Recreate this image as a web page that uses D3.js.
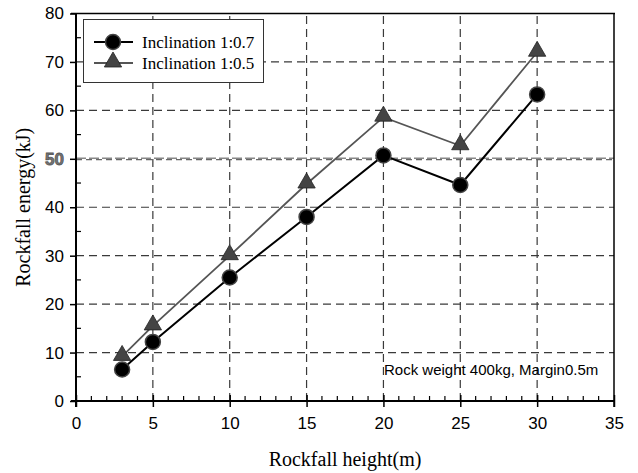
<!DOCTYPE html>
<html><head><meta charset="utf-8">
<script src="https://cdn.jsdelivr.net/npm/d3@7"></script>
<style>body{margin:0;background:#fff}svg{display:block}</style>
</head><body>
<script>
const heights = [3, 5, 10, 15, 20, 25, 30];
const energy07 = [6.5, 12.2, 25.5, 38.0, 50.7, 44.6, 63.3];
const energy05 = [9.2, 15.5, 30.0, 44.8, 58.6, 52.7, 72.0];
const seriesNames = ["Inclination 1:0.7", "Inclination 1:0.5"];
const xTicks = [0, 5, 10, 15, 20, 25, 30, 35];
const yTicks = [0, 10, 20, 30, 40, 50, 60, 70, 80];
const note = "Rock weight 400kg, Margin0.5m";

const W = 638, H = 473;
const m = {l: 76, r: 24, t: 13.5, b: 72};
const svg = d3.select("body").append("svg").attr("width", W).attr("height", H);
const x = d3.scaleLinear().domain([0, 35]).range([m.l, W - m.r]);
const y = d3.scaleLinear().domain([0, 80]).range([H - m.b, m.t]);
const x0 = x(0), x1 = x(35), y0 = y(0), y1 = y(80);

// grid
const g = svg.append("g");
g.selectAll(".gx").data(xTicks.filter(d => d > 0 && d < 35)).join("line")
  .attr("x1", d => x(d)).attr("x2", d => x(d)).attr("y1", y0).attr("y2", y1)
  .attr("stroke", "#3a3a3a").attr("stroke-width", 1.2).attr("stroke-dasharray", "8,5");
g.selectAll(".gy").data(yTicks.filter(d => d > 0 && d < 80 && d !== 50)).join("line")
  .attr("y1", d => y(d)).attr("y2", d => y(d)).attr("x1", x0).attr("x2", x1)
  .attr("stroke", "#3a3a3a").attr("stroke-width", 1.2).attr("stroke-dasharray", "8,5");
// the highlighted 50 line
g.append("line").attr("x1", x0).attr("x2", x1).attr("y1", y(50) - 0.6).attr("y2", y(50) - 0.6)
  .attr("stroke", "#888").attr("stroke-width", 1.4).attr("stroke-dasharray", "10,3");
g.append("line").attr("x1", x0).attr("x2", x1).attr("y1", y(50) + 0.8).attr("y2", y(50) + 0.8)
  .attr("stroke", "#666").attr("stroke-width", 1.2).attr("stroke-dasharray", "6,4");

// frame
svg.append("line").attr("x1", x0 - 5).attr("x2", x1 + 1).attr("y1", y1).attr("y2", y1).attr("stroke", "#000").attr("stroke-width", 1.5);
svg.append("line").attr("x1", x1).attr("x2", x1).attr("y1", y1).attr("y2", y0 + 6).attr("stroke", "#000").attr("stroke-width", 1.5);

// x axis
const xAxis = d3.axisBottom(x).tickValues(xTicks).tickSize(6).tickPadding(10);
const gx = svg.append("g").attr("transform", `translate(0,${y0})`).call(xAxis);
gx.select(".domain").remove();
gx.selectAll(".tick line").attr("y1", -6).attr("y2", 6).attr("stroke-width", 1.5);
gx.selectAll("text").attr("font-family", "Liberation Sans, Arial, sans-serif").attr("font-size", 17).attr("fill", "#000");
svg.append("g").selectAll("line").data(d3.range(0, 36).filter(d => d % 5 !== 0)).join("line")
  .attr("x1", d => x(d)).attr("x2", d => x(d)).attr("y1", y0).attr("y2", y0 - 5)
  .attr("stroke", "#000").attr("stroke-width", 1.2);
svg.append("line").attr("x1", x0 - 5).attr("x2", x1 + 1).attr("y1", y0).attr("y2", y0).attr("stroke", "#000").attr("stroke-width", 2);

// y axis
const yAxis = d3.axisLeft(y).tickValues(yTicks).tickSize(6).tickPadding(6);
const gy = svg.append("g").attr("transform", `translate(${x0},0)`).call(yAxis);
gy.select(".domain").remove();
gy.selectAll(".tick line").attr("stroke-width", 1.5);
gy.selectAll("text").attr("font-family", "Liberation Sans, Arial, sans-serif").attr("font-size", 17).attr("fill", "#000");
gy.selectAll(".tick").filter(d => d === 50).select("text")
  .attr("fill", "#777").attr("stroke", "#555").attr("stroke-width", 0.8).attr("font-weight", "bold");
svg.append("g").selectAll("line").data(d3.range(5, 80, 10)).join("line")
  .attr("x1", x0).attr("x2", x0 + 5).attr("y1", d => y(d)).attr("y2", d => y(d))
  .attr("stroke", "#000").attr("stroke-width", 1.2);
svg.append("line").attr("x1", x0).attr("x2", x0).attr("y1", y1).attr("y2", y0 + 6).attr("stroke", "#000").attr("stroke-width", 2);

// axis titles
svg.append("text").attr("x", (x0 + x1) / 2).attr("y", 466).attr("text-anchor", "middle")
  .attr("font-family", "Liberation Serif, Times New Roman, serif").attr("font-size", 20).text("Rockfall height(m)");
svg.append("text").attr("transform", `translate(30,${(y0 + y1) / 2}) rotate(-90)`).attr("text-anchor", "middle")
  .attr("font-family", "Liberation Serif, Times New Roman, serif").attr("font-size", 20).text("Rockfall energy(kJ)");

// series
const line = d3.line().x(d => x(d[0])).y(d => y(d[1]));
const d07 = heights.map((h, i) => [h, energy07[i]]);
const d05 = heights.map((h, i) => [h, energy05[i]]);
svg.append("path").datum(d05).attr("d", line).attr("fill", "none").attr("stroke", "#555").attr("stroke-width", 1.8);
svg.append("path").datum(d07).attr("d", line).attr("fill", "none").attr("stroke", "#000").attr("stroke-width", 2);
const tri = d3.symbol().type(d3.symbolTriangle).size(130);
svg.append("g").selectAll("path").data(d05).join("path")
  .attr("transform", d => `translate(${x(d[0])},${y(d[1]) - 1})`).attr("d", tri)
  .attr("fill", "#444").attr("stroke", "#222").attr("stroke-width", 0.8);
svg.append("g").selectAll("circle").data(d07).join("circle")
  .attr("cx", d => x(d[0])).attr("cy", d => y(d[1])).attr("r", 7.5)
  .attr("fill", "#000").attr("stroke", "#444").attr("stroke-width", 1.5);

// legend
const lg = svg.append("g");
lg.append("rect").attr("x", 83.5).attr("y", 19.5).attr("width", 180).attr("height", 63)
  .attr("fill", "#fff").attr("stroke", "#333").attr("stroke-width", 1);
[0, 1].forEach(i => {
  const ly = 42 + i * 21;
  lg.append("line").attr("x1", 94).attr("x2", 133).attr("y1", ly).attr("y2", ly)
    .attr("stroke", i === 0 ? "#000" : "#555").attr("stroke-width", i === 0 ? 2 : 1.8);
  if (i === 0) lg.append("circle").attr("cx", 113).attr("cy", ly).attr("r", 7.5).attr("fill", "#000").attr("stroke", "#444").attr("stroke-width", 1.5);
  else lg.append("path").attr("transform", `translate(113,${ly - 1})`).attr("d", tri).attr("fill", "#444").attr("stroke", "#222").attr("stroke-width", 0.8);
  lg.append("text").attr("x", 142).attr("y", ly + 5.5).attr("font-family", "Liberation Serif, Times New Roman, serif")
    .attr("font-size", 17).text(seriesNames[i]);
});

// note
svg.append("text").attr("x", 384).attr("y", 375).attr("font-family", "Liberation Sans, Arial, sans-serif")
  .attr("font-size", 15).text(note);
</script>
</body></html>
